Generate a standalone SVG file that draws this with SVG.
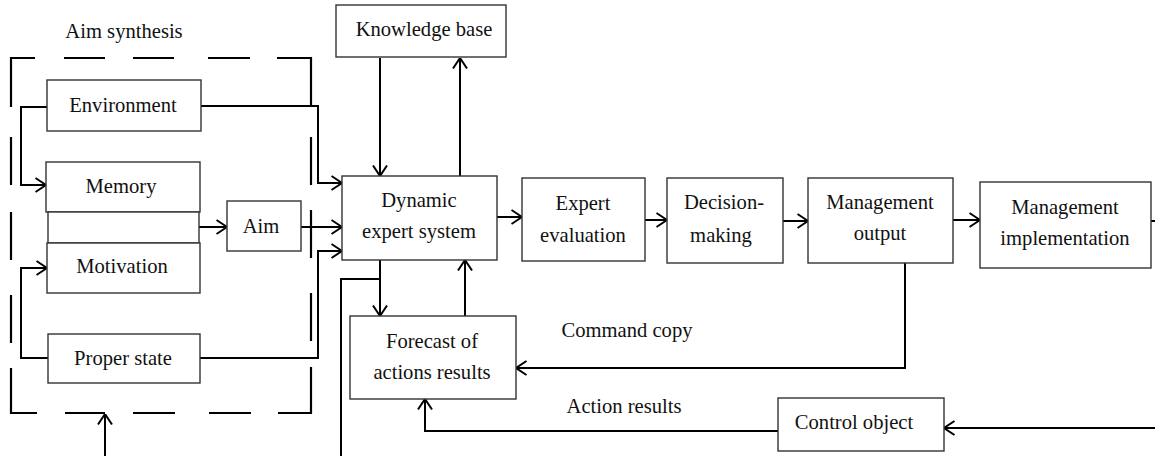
<svg xmlns="http://www.w3.org/2000/svg" width="1155" height="456" viewBox="0 0 1155 456">
<style>
.box{fill:#fff;stroke:#333;stroke-width:1.4}
.t{font-family:"Liberation Serif","Times New Roman",serif;font-size:20.6px;fill:#111;text-anchor:middle}
.c{fill:none;stroke:#000;stroke-width:2}
.d{fill:none;stroke:#000;stroke-width:2.2}
</style>
<defs>
<marker id="a" viewBox="0 0 12 16" refX="11.5" refY="8" markerWidth="12" markerHeight="16" markerUnits="userSpaceOnUse" orient="auto">
<path d="M1,1 L11.5,8 L1,15" fill="none" stroke="#000" stroke-width="2"/>
</marker>
</defs>
<rect width="1155" height="456" fill="#fff"/>
<g id="aim-synthesis-frame">
<path class="d" d="M11,107V58H35 M64,58H105 M133,58H174 M208,58H250 M277,58H311V106 M11,137V185 M11,212V260 M11,295V343 M11,368V413H37 M65,413H105 M133,413H175 M209,413H251 M278,413H311V367 M311,137V185 M311,210V258 M311,293V341"/>
<text class="t" x="124" y="38">Aim synthesis</text>
</g>
<g id="connectors">
<path class="c" d="M47,107H21V185H46" marker-end="url(#a)"/>
<path class="c" d="M48,358H21V268H47" marker-end="url(#a)"/>
<path class="c" d="M201,106H318V183H342" marker-end="url(#a)"/>
<path class="c" d="M199,227H227" marker-end="url(#a)"/>
<path class="c" d="M301,227H342" marker-end="url(#a)"/>
<path class="c" d="M200,358H318V251H342" marker-end="url(#a)"/>
<path class="c" d="M380,58V176" marker-end="url(#a)"/>
<path class="c" d="M460,176V58" marker-end="url(#a)"/>
<path class="c" d="M497,217H522" marker-end="url(#a)"/>
<path class="c" d="M645,220H667" marker-end="url(#a)"/>
<path class="c" d="M783,221H808" marker-end="url(#a)"/>
<path class="c" d="M953,220H980" marker-end="url(#a)"/>
<path class="c" d="M1151,221H1155"/>
<path class="c" d="M905,263V368H516" marker-end="url(#a)"/>
<path class="c" d="M1155,428H944" marker-end="url(#a)"/>
<path class="c" d="M778,431H425V399" marker-end="url(#a)"/>
<path class="c" d="M380,260V316" marker-end="url(#a)"/>
<path class="c" d="M380,279H341V456"/>
<path class="c" d="M465,316V260" marker-end="url(#a)"/>
<path class="c" d="M105,456V414" marker-end="url(#a)"/>
<text class="t" x="627" y="337">Command copy</text>
<text class="t" x="624" y="413">Action results</text>
</g>
<g id="knowledge-base"><rect class="box" x="336" y="5" width="170" height="52"/><text class="t" x="424" y="36">Knowledge base</text></g>
<g id="environment"><rect class="box" x="47" y="80" width="154" height="51"/><text class="t" x="123" y="112">Environment</text></g>
<g id="memory"><rect class="box" x="46" y="162" width="154" height="50"/><text class="t" x="121" y="193">Memory</text></g>
<g id="memory-motivation-link"><rect class="box" x="48" y="212" width="151" height="31"/></g>
<g id="motivation"><rect class="box" x="47" y="243" width="153" height="50"/><text class="t" x="122" y="273">Motivation</text></g>
<g id="proper-state"><rect class="box" x="48" y="334" width="152" height="49"/><text class="t" x="123" y="365">Proper state</text></g>
<g id="aim"><rect class="box" x="227" y="201" width="74" height="50"/><text class="t" x="261" y="233">Aim</text></g>
<g id="dynamic-expert-system"><rect class="box" x="342" y="176" width="155" height="84"/><text class="t" x="419" y="207">Dynamic</text><text class="t" x="419" y="238">expert system</text></g>
<g id="expert-evaluation"><rect class="box" x="522" y="178" width="123" height="83"/><text class="t" x="583" y="210">Expert</text><text class="t" x="583" y="242">evaluation</text></g>
<g id="decision-making"><rect class="box" x="667" y="178" width="116" height="85"/><text class="t" x="724" y="209">Decision-</text><text class="t" x="721" y="242">making</text></g>
<g id="management-output"><rect class="box" x="808" y="178" width="145" height="85"/><text class="t" x="880" y="209">Management</text><text class="t" x="880" y="240">output</text></g>
<g id="management-implementation"><rect class="box" x="980" y="182" width="171" height="86"/><text class="t" x="1065" y="214">Management</text><text class="t" x="1065" y="245">implementation</text></g>
<g id="forecast"><rect class="box" x="350" y="316" width="166" height="83"/><text class="t" x="432" y="348">Forecast of</text><text class="t" x="432" y="379">actions results</text></g>
<g id="control-object"><rect class="box" x="778" y="398" width="166" height="53"/><text class="t" x="854" y="429">Control object</text></g>
</svg>
